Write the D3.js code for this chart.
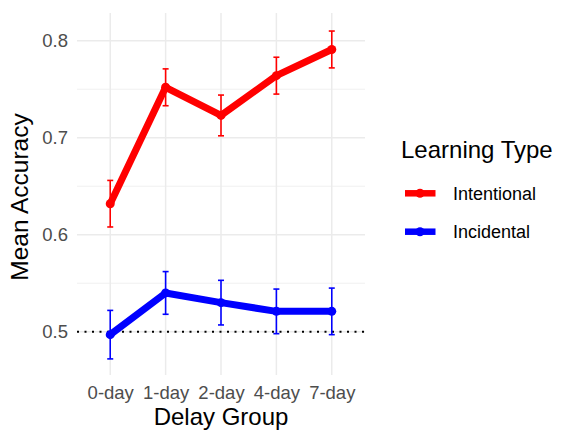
<!DOCTYPE html>
<html>
<head>
<meta charset="utf-8">
<script src="https://cdn.jsdelivr.net/npm/d3@7"></script>
<style>
  body { margin: 0; background: #fff; }
  text { font-family: 'Liberation Sans', Arial, sans-serif; }
</style>
</head>
<body>
<div id="chart"></div>
<script>
// data
let groups = ['0-day', '1-day', '2-day', '4-day', '7-day'];
let intentionalMean = [0.632, 0.752, 0.723, 0.764, 0.791];
let intentionalErr = [0.024, 0.019, 0.021, 0.019, 0.019];
let incidentalMean = [0.497, 0.540, 0.530, 0.521, 0.521];
let incidentalErr = [0.025, 0.022, 0.023, 0.023, 0.024];
let seriesNames = ['Intentional', 'Incidental'];
let seriesColors = ['#ff0000', '#0000ff'];
let yTicks = [0.5, 0.6, 0.7, 0.8];
let yMinor = [0.55, 0.65, 0.75];

let width = 561;
let height = 433;
let margin = ({ top: 13, right: 196, bottom: 58, left: 77 });

let series = [
    { name: seriesNames[0], color: seriesColors[0], mean: intentionalMean, err: intentionalErr },
    { name: seriesNames[1], color: seriesColors[1], mean: incidentalMean, err: incidentalErr }
];

let svg = d3.select('#chart')
    .append('svg')
    .attr('width', width)
    .attr('height', height);

let x = d3.scalePoint()
    .domain(groups)
    .range([margin.left, width - margin.right])
    .padding(0.6);

let y = d3.scaleLinear()
    .domain([0.4554, 0.8286])
    .range([height - margin.bottom, margin.top]);

// grid
let grid = svg.append('g');
grid.selectAll('.minor')
    .data(yMinor).enter()
    .append('line')
    .attr('x1', margin.left).attr('x2', width - margin.right)
    .attr('y1', d => y(d)).attr('y2', d => y(d))
    .attr('stroke', '#ebebeb').attr('stroke-width', 0.8);
grid.selectAll('.major')
    .data(yTicks).enter()
    .append('line')
    .attr('x1', margin.left).attr('x2', width - margin.right)
    .attr('y1', d => y(d)).attr('y2', d => y(d))
    .attr('stroke', '#ebebeb').attr('stroke-width', 1.5);
grid.selectAll('.vx')
    .data(groups).enter()
    .append('line')
    .attr('x1', d => x(d)).attr('x2', d => x(d))
    .attr('y1', margin.top).attr('y2', height - margin.bottom)
    .attr('stroke', '#ebebeb').attr('stroke-width', 1.5);

// chance line
svg.append('line')
    .attr('x1', margin.left).attr('x2', width - margin.right)
    .attr('y1', y(0.5)).attr('y2', y(0.5))
    .attr('stroke', '#000')
    .attr('stroke-width', 2)
    .attr('stroke-dasharray', '2,5.5');

// axes (text only, like theme_minimal)
let xAxis = g => g
    .attr('transform', `translate(0,${height - margin.bottom})`)
    .call(d3.axisBottom(x).tickSize(0).tickPadding(11))
    .call(g => g.select('.domain').remove())
    .call(g => g.selectAll('text')
        .attr('fill', '#4d4d4d')
        .style('font-size', '18.5px')
        .style('font-family', "'Liberation Sans', Arial, sans-serif"));

let yAxis = g => g
    .attr('transform', `translate(${margin.left},0)`)
    .call(d3.axisLeft(y).tickValues(yTicks).tickFormat(d3.format('.1f')).tickSize(0).tickPadding(9))
    .call(g => g.select('.domain').remove())
    .call(g => g.selectAll('text')
        .attr('fill', '#4d4d4d')
        .style('font-size', '18.5px')
        .style('font-family', "'Liberation Sans', Arial, sans-serif"));

svg.append('g').call(xAxis);
svg.append('g').call(yAxis);

// series
let line = d3.line()
    .x((d, i) => x(groups[i]))
    .y(d => y(d));

series.forEach(s => {
    let g = svg.append('g');
    g.append('path')
        .datum(s.mean)
        .attr('fill', 'none')
        .attr('stroke', s.color)
        .attr('stroke-width', 7)
        .attr('stroke-linejoin', 'round')
        .attr('d', line);

    let bars = g.selectAll('.err')
        .data(s.mean.map((m, i) => ({ g: groups[i], lo: m - s.err[i], hi: m + s.err[i] })))
        .enter()
        .append('g');
    bars.append('line')
        .attr('x1', d => x(d.g)).attr('x2', d => x(d.g))
        .attr('y1', d => y(d.lo)).attr('y2', d => y(d.hi))
        .attr('stroke', s.color).attr('stroke-width', 1.6);
    bars.append('line')
        .attr('x1', d => x(d.g) - 3).attr('x2', d => x(d.g) + 3)
        .attr('y1', d => y(d.lo)).attr('y2', d => y(d.lo))
        .attr('stroke', s.color).attr('stroke-width', 1.6);
    bars.append('line')
        .attr('x1', d => x(d.g) - 3).attr('x2', d => x(d.g) + 3)
        .attr('y1', d => y(d.hi)).attr('y2', d => y(d.hi))
        .attr('stroke', s.color).attr('stroke-width', 1.6);

    g.selectAll('circle')
        .data(s.mean).enter()
        .append('circle')
        .attr('cx', (d, i) => x(groups[i]))
        .attr('cy', d => y(d))
        .attr('r', 4.5)
        .attr('fill', s.color);
});

// axis titles
svg.append('text')
    .attr('x', (margin.left + width - margin.right) / 2)
    .attr('y', 425)
    .attr('text-anchor', 'middle')
    .attr('fill', '#000')
    .style('font-size', '24px')
    .text('Delay Group');

svg.append('text')
    .attr('transform', `translate(28,${(margin.top + height - margin.bottom) / 2 + 3}) rotate(-90)`)
    .attr('text-anchor', 'middle')
    .attr('fill', '#000')
    .style('font-size', '24.5px')
    .text('Mean Accuracy');

// legend
let legend = svg.append('g');
legend.append('text')
    .attr('x', 401)
    .attr('y', 158)
    .attr('fill', '#000')
    .style('font-size', '24px')
    .text('Learning Type');

let keys = legend.selectAll('.key')
    .data(series).enter()
    .append('g')
    .attr('transform', (d, i) => `translate(0,${193.3 + i * 38.4})`);
keys.append('line')
    .attr('x1', 405).attr('x2', 435.5)
    .attr('y1', 0).attr('y2', 0)
    .attr('stroke', d => d.color)
    .attr('stroke-width', 6.5);
keys.append('circle')
    .attr('cx', 420).attr('cy', 0).attr('r', 4.5)
    .attr('fill', d => d.color);
keys.append('text')
    .attr('x', 453)
    .attr('y', 6.5)
    .attr('fill', '#000')
    .style('font-size', '18px')
    .text(d => d.name);
</script>
</body>
</html>
